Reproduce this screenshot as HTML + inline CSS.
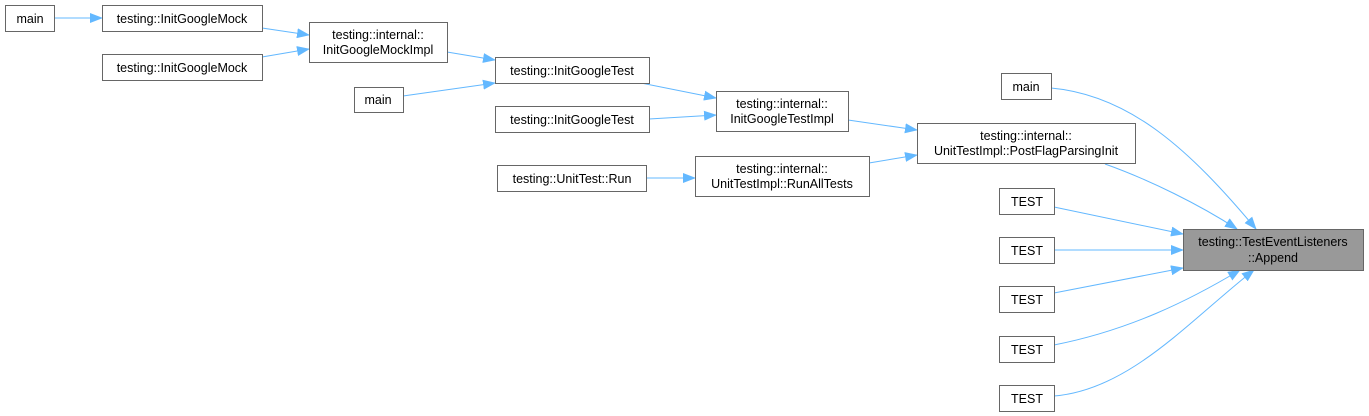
<!DOCTYPE html>
<html><head><meta charset="utf-8"><style>
html,body{margin:0;padding:0;background:#fff;}
svg{display:block;}
text{font-family:"Liberation Sans",Helvetica,Arial,sans-serif;font-size:12.5px;fill:#000;}
</style></head><body>
<svg width="1369" height="416" viewBox="0 0 1369 416" xmlns="http://www.w3.org/2000/svg">
<defs><marker id="a" markerWidth="13" markerHeight="10" refX="12" refY="5" orient="auto" markerUnits="userSpaceOnUse"><path d="M0,0 L13,5 L0,10 Z" fill="#63b8ff"/></marker></defs>
<g stroke="#63b8ff" stroke-width="1" fill="none" marker-end="url(#a)">
<path d="M54,18 L102,18"/>
<path d="M262,28 L309,35"/>
<path d="M262,57 L309,49"/>
<path d="M447,52 L495,60"/>
<path d="M403,96 L495,83"/>
<path d="M641,83 L716,98"/>
<path d="M649,119 L716,115"/>
<path d="M848,120 L917,130"/>
<path d="M646,178 L695,178"/>
<path d="M869,163 L917,155"/>
<path d="M1051,88 C1130,95 1190,150 1256,229"/>
<path d="M1105,164 C1150,180 1200,205 1237,229"/>
<path d="M1054,207 L1183,234"/>
<path d="M1054,250 L1183,250"/>
<path d="M1054,293 L1183,268"/>
<path d="M1054,345 C1130,330 1190,300 1240,270"/>
<path d="M1054,396 C1130,390 1190,320 1254,270"/>
</g>
<g stroke="#666" stroke-width="1" fill="#fff">
<rect x="5.5" y="5.5" width="49" height="26"/>
<rect x="102.5" y="5.5" width="160" height="26"/>
<rect x="102.5" y="54.5" width="160" height="26"/>
<rect x="309.5" y="22.5" width="138" height="40"/>
<rect x="354.5" y="87.5" width="49" height="25"/>
<rect x="495.5" y="57.5" width="154" height="26"/>
<rect x="495.5" y="106.5" width="154" height="26"/>
<rect x="716.5" y="91.5" width="132" height="40"/>
<rect x="497.5" y="165.5" width="149" height="26"/>
<rect x="695.5" y="156.5" width="174" height="40"/>
<rect x="917.5" y="123.5" width="218" height="40"/>
<rect x="1001.5" y="73.5" width="50" height="26"/>
<rect x="999.5" y="188.5" width="55" height="26"/>
<rect x="999.5" y="237.5" width="55" height="26"/>
<rect x="999.5" y="286.5" width="55" height="26"/>
<rect x="999.5" y="336.5" width="55" height="26"/>
<rect x="999.5" y="385.5" width="55" height="26"/>
<rect x="1183.5" y="229.5" width="180" height="41" fill="#999"/>
</g>
<g text-anchor="middle">
<text x="30" y="23">main</text>
<text x="182" y="23">testing::InitGoogleMock</text>
<text x="182" y="72">testing::InitGoogleMock</text>
<text x="378" y="39">testing::internal::</text>
<text x="378" y="54">InitGoogleMockImpl</text>
<text x="378" y="104">main</text>
<text x="572" y="75">testing::InitGoogleTest</text>
<text x="572" y="124">testing::InitGoogleTest</text>
<text x="782" y="108">testing::internal::</text>
<text x="782" y="123">InitGoogleTestImpl</text>
<text x="572" y="183">testing::UnitTest::Run</text>
<text x="782" y="173">testing::internal::</text>
<text x="782" y="188">UnitTestImpl::RunAllTests</text>
<text x="1026" y="140">testing::internal::</text>
<text x="1026" y="155">UnitTestImpl::PostFlagParsingInit</text>
<text x="1026" y="91">main</text>
<text x="1027" y="206">TEST</text>
<text x="1027" y="255">TEST</text>
<text x="1027" y="304">TEST</text>
<text x="1027" y="354">TEST</text>
<text x="1027" y="403">TEST</text>
<text x="1273" y="246">testing::TestEventListeners</text>
<text x="1273" y="262">::Append</text>
</g>
</svg>
</body></html>
